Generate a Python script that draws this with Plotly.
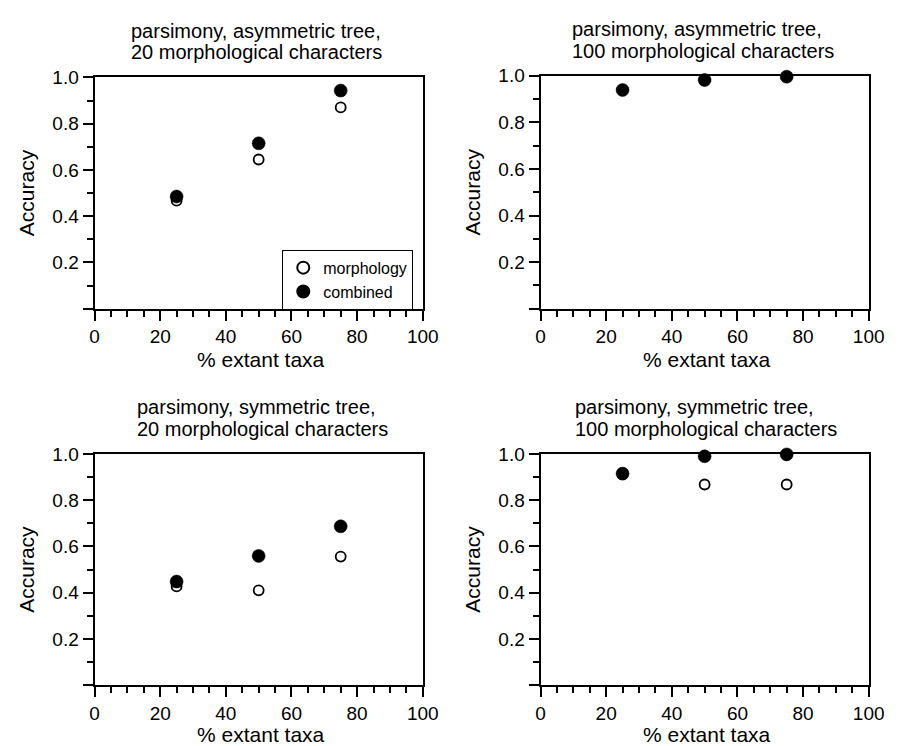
import plotly.graph_objects as go

# ---- data ----
pct_extant = [25, 50, 75]

asym20_morph = [0.467, 0.645, 0.870]
asym20_comb = [0.485, 0.715, 0.943]
asym100_morph = [0.94, 0.98, 0.998]
asym100_comb = [0.939, 0.982, 0.996]
sym20_morph = [0.427, 0.410, 0.556]
sym20_comb = [0.448, 0.559, 0.687]
sym100_morph = [0.912, 0.868, 0.868]
sym100_comb = [0.915, 0.990, 0.998]

panel_titles = [
    ["parsimony, asymmetric tree,", "20 morphological characters"],
    ["parsimony, asymmetric tree,", "100 morphological characters"],
    ["parsimony, symmetric tree,", "20 morphological characters"],
    ["parsimony, symmetric tree,", "100 morphological characters"],
]
series_names = ["morphology", "combined"]
x_label = "% extant taxa"
y_label = "Accuracy"
x_tickvals = [0, 20, 40, 60, 80, 100]
y_tickvals = [0, 0.2, 0.4, 0.6, 0.8, 1.0]
y_ticktext = ["", "0.2", "0.4", "0.6", "0.8", "1.0"]

panel_data = [
    (asym20_morph, asym20_comb),
    (asym100_morph, asym100_comb),
    (sym20_morph, sym20_comb),
    (sym100_morph, sym100_comb),
]

# ---- layout geometry (page pixels) ----
W, H = 902, 746
FONT = "Liberation Sans, Arial, Helvetica, sans-serif"
panels_px = [
    (91.7, 427.7, 68.3, 302.7),
    (548.3, 884.3, 66.7, 302.7),
    (91.7, 427.7, 450.0, 684.3),
    (548.3, 884.3, 450.0, 684.3),
]
title_left_px = [126.7, 578.0, 132.7, 582.0]


def px_x(p):
    return p / W


def px_y(p):
    return 1 - p / H


fig = go.Figure()
layout = dict(
    width=W, height=H,
    margin=dict(l=0, r=0, t=0, b=0),
    paper_bgcolor="white", plot_bgcolor="white",
    font=dict(family=FONT, color="black"),
    showlegend=True,
)
annotations = []

for i, ((l, r, t, b), (morph, comb)) in enumerate(zip(panels_px, panel_data)):
    n = i + 1
    xa = "xaxis" if n == 1 else f"xaxis{n}"
    ya = "yaxis" if n == 1 else f"yaxis{n}"
    xref = "x" if n == 1 else f"x{n}"
    yref = "y" if n == 1 else f"y{n}"
    layout[xa] = dict(
        domain=[px_x(l), px_x(r)], anchor=yref, range=[0, 100],
        showline=True, linecolor="black", linewidth=2, mirror=True,
        showgrid=False, zeroline=False,
        ticks="outside", ticklen=10, tickwidth=2, tickcolor="black",
        tickmode="array", tickvals=x_tickvals,
        tickfont=dict(size=19, family=FONT, color="black"),
        minor=dict(ticks="outside", ticklen=6, tickwidth=2, tickcolor="black",
                   dtick=5, tick0=0, showgrid=False),
        fixedrange=True,
    )
    layout[ya] = dict(
        domain=[px_y(b), px_y(t)], anchor=xref, range=[0, 1],
        showline=True, linecolor="black", linewidth=2, mirror=True,
        showgrid=False, zeroline=False,
        ticks="outside", ticklen=10, tickwidth=2, tickcolor="black",
        tickmode="array", tickvals=y_tickvals, ticktext=y_ticktext,
        tickfont=dict(size=19, family=FONT, color="black"),
        minor=dict(ticks="outside", ticklen=6, tickwidth=2, tickcolor="black",
                   dtick=0.1, tick0=0, showgrid=False),
        fixedrange=True,
    )
    fig.add_trace(go.Scatter(
        x=pct_extant, y=morph, mode="markers", name=series_names[0],
        xaxis=xref, yaxis=yref, cliponaxis=False,
        showlegend=(n == 1), legendgroup="m",
        marker=dict(symbol="circle", size=10, color="white",
                    line=dict(color="black", width=1.8)),
    ))
    fig.add_trace(go.Scatter(
        x=pct_extant, y=comb, mode="markers", name=series_names[1],
        xaxis=xref, yaxis=yref, cliponaxis=False,
        showlegend=(n == 1), legendgroup="c",
        marker=dict(symbol="circle", size=13, color="black",
                    line=dict(color="black", width=0.5)),
    ))
    # panel title (two left-aligned lines)
    for line, ypx in zip(panel_titles[i], [t - 47.5, t - 25.3]):
        annotations.append(dict(
            text=line, xref="paper", yref="paper",
            x=px_x(title_left_px[i]), y=px_y(ypx),
            xanchor="left", yanchor="middle", showarrow=False,
            font=dict(size=20, family=FONT, color="black"),
        ))
    # axis titles
    annotations.append(dict(
        text=x_label, xref="paper", yref="paper",
        x=px_x((l + r) / 2 + 2), y=px_y(min(b + 51.5, 734.5)),
        xanchor="center", yanchor="middle", showarrow=False,
        font=dict(size=21, family=FONT, color="black"),
    ))
    annotations.append(dict(
        text=y_label, xref="paper", yref="paper",
        x=px_x(l - 70), y=px_y((t + b) / 2),
        xanchor="center", yanchor="middle", showarrow=False, textangle=-90,
        font=dict(size=21, family=FONT, color="black"),
    ))

layout["annotations"] = annotations
layout["legend"] = dict(
    x=px_x(418), y=px_y(243), xanchor="right", yanchor="top",
    bgcolor="white", bordercolor="black", borderwidth=1,
    font=dict(size=16, family=FONT, color="black"),
    tracegroupgap=0, itemsizing="constant",
)
fig.update_layout(**layout)
fig.write_html("out.html")
